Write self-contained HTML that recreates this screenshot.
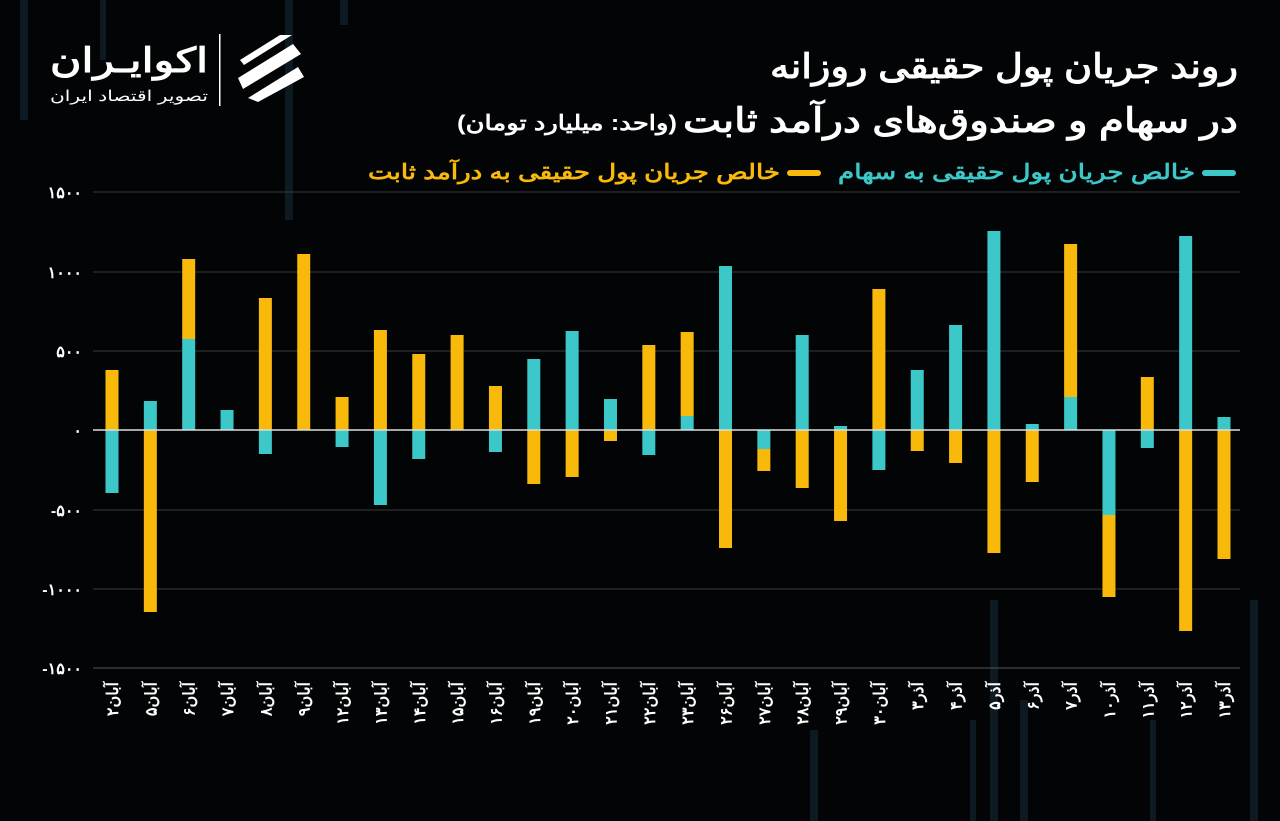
<!DOCTYPE html>
<html><head><meta charset="utf-8"><style>
body{margin:0;background:#000;width:1280px;height:821px;overflow:hidden}
svg{display:block}
text{font-family:"Liberation Sans","Noto Sans CJK SC",sans-serif}
</style></head><body>
<svg width="1280" height="821" viewBox="0 0 1280 821">
<rect width="1280" height="821" fill="#030405"/>
<g fill="#0d1a22">
<rect x="20" y="0" width="8" height="120"/><rect x="100" y="0" width="6" height="60"/><rect x="285" y="0" width="8" height="220"/><rect x="340" y="0" width="8" height="25"/><rect x="990" y="600" width="8" height="221"/><rect x="1250" y="600" width="8" height="221"/><rect x="810" y="730" width="8" height="91"/><rect x="970" y="720" width="6" height="101"/><rect x="1150" y="720" width="6" height="101"/><rect x="1020" y="700" width="8" height="121"/>
</g>
<text x="1238" y="78" text-anchor="end" font-size="34" font-weight="bold" fill="#fff" textLength="468" lengthAdjust="spacingAndGlyphs">روند جریان پول حقیقی روزانه</text>
<text x="1238" y="132" text-anchor="end" font-size="34" font-weight="bold" fill="#fff" textLength="555" lengthAdjust="spacingAndGlyphs">در سهام و صندوق‌های درآمد ثابت</text>
<text x="677" y="130" text-anchor="end" font-size="21" font-weight="bold" fill="#fff" textLength="220" lengthAdjust="spacingAndGlyphs">(واحد: میلیارد تومان)</text>
<rect x="1202" y="170" width="34" height="6" rx="3" fill="#3cc8c8"/>
<text x="1195" y="179" text-anchor="end" font-size="21" font-weight="bold" fill="#3cc8c8" textLength="357" lengthAdjust="spacingAndGlyphs">خالص جریان پول حقیقی به سهام</text>
<rect x="787" y="170" width="34" height="6" rx="3" fill="#f9b90a"/>
<text x="780" y="179" text-anchor="end" font-size="21" font-weight="bold" fill="#f9b90a" textLength="412" lengthAdjust="spacingAndGlyphs">خالص جریان پول حقیقی به درآمد ثابت</text>
<text x="208" y="72" text-anchor="end" font-size="34" font-weight="bold" fill="#fff" textLength="158" lengthAdjust="spacingAndGlyphs">اکوایـران</text>
<text x="208" y="101" text-anchor="end" font-size="15" fill="#fff" textLength="158" lengthAdjust="spacingAndGlyphs">تصویر اقتصاد ایران</text>
<rect x="219" y="34" width="1.5" height="72" fill="#fff"/>
<g fill="#fff"><path d="M240 60 l40 -25 l12 0 l-48 30z"/><path d="M238 78 l55 -34 l8 10 l-58 35z"/><path d="M248 98 l50 -31 l6 10 l-46 25z"/></g>
<g stroke="#3a3a3a" stroke-width="1">
<line x1="93" y1="192" x2="1240" y2="192"/><line x1="93" y1="272" x2="1240" y2="272"/><line x1="93" y1="351" x2="1240" y2="351"/><line x1="93" y1="510" x2="1240" y2="510"/><line x1="93" y1="589" x2="1240" y2="589"/><line x1="93" y1="668" x2="1240" y2="668" stroke="#555"/>
</g>
<g font-size="16" font-weight="bold" fill="#fff" text-anchor="end">
<text x="82" y="198">۱۵۰۰</text><text x="82" y="278">۱۰۰۰</text><text x="82" y="357">۵۰۰</text><text x="82" y="436">۰</text><text x="82" y="516">-۵۰۰</text><text x="82" y="595">-۱۰۰۰</text><text x="82" y="674">-۱۵۰۰</text>
</g>
<g id="bars"></g>
<line x1="93" y1="430" x2="1240" y2="430" stroke="#ddd" stroke-width="1.5"/>
<g id="labels" font-size="16" fill="#fff"></g>
</svg>
<script>
var B=[
["آبان۲",[["y",370,430],["c",430,493]]],
["آبان۵",[["c",401,430],["y",430,612]]],
["آبان۶",[["c",339,430],["y",259,339]]],
["آبان۷",[["c",410,430]]],
["آبان۸",[["y",298,430],["c",430,454]]],
["آبان۹",[["y",254,430]]],
["آبان۱۲",[["y",397,430],["c",430,447]]],
["آبان۱۳",[["y",330,430],["c",430,505]]],
["آبان۱۴",[["y",354,430],["c",430,459]]],
["آبان۱۵",[["y",335,430]]],
["آبان۱۶",[["y",386,430],["c",430,452]]],
["آبان۱۹",[["c",359,430],["y",430,484]]],
["آبان۲۰",[["c",331,430],["y",430,477]]],
["آبان۲۱",[["c",399,430],["y",430,441]]],
["آبان۲۲",[["y",345,430],["c",430,455]]],
["آبان۲۳",[["c",416,430],["y",332,416]]],
["آبان۲۶",[["c",266,430],["y",430,548]]],
["آبان۲۷",[["c",430,449],["y",449,471]]],
["آبان۲۸",[["c",335,430],["y",430,488]]],
["آبان۲۹",[["c",426,430],["y",430,521]]],
["آبان۳۰",[["y",289,430],["c",430,470]]],
["آذر۳",[["c",370,430],["y",430,451]]],
["آذر۴",[["c",325,430],["y",430,463]]],
["آذر۵",[["c",231,430],["y",430,553]]],
["آذر۶",[["c",424,430],["y",430,482]]],
["آذر۷",[["c",397,430],["y",244,397]]],
["آذر۱۰",[["c",430,515],["y",515,597]]],
["آذر۱۱",[["y",377,430],["c",430,448]]],
["آذر۱۲",[["c",236,430],["y",430,631]]],
["آذر۱۳",[["c",417,430],["y",430,559]]]
];
var ns="http://www.w3.org/2000/svg",bars=document.getElementById("bars"),labs=document.getElementById("labels");
B.forEach(function(b,i){
 var x=112+i*(1112/29);
 b[1].forEach(function(s){var r=document.createElementNS(ns,"rect");r.setAttribute("x",x-6.5);r.setAttribute("width",13);r.setAttribute("y",s[1]);r.setAttribute("height",s[2]-s[1]);r.setAttribute("fill",s[0]=="c"?"#3cc8c8":"#f9b90a");bars.appendChild(r);});
 var t=document.createElementNS(ns,"text");t.setAttribute("transform","translate("+(x+6)+",682) rotate(-90)");t.setAttribute("text-anchor","end");t.setAttribute("font-weight","bold");t.textContent=b[0];labs.appendChild(t);
});
</script>
</body></html>
